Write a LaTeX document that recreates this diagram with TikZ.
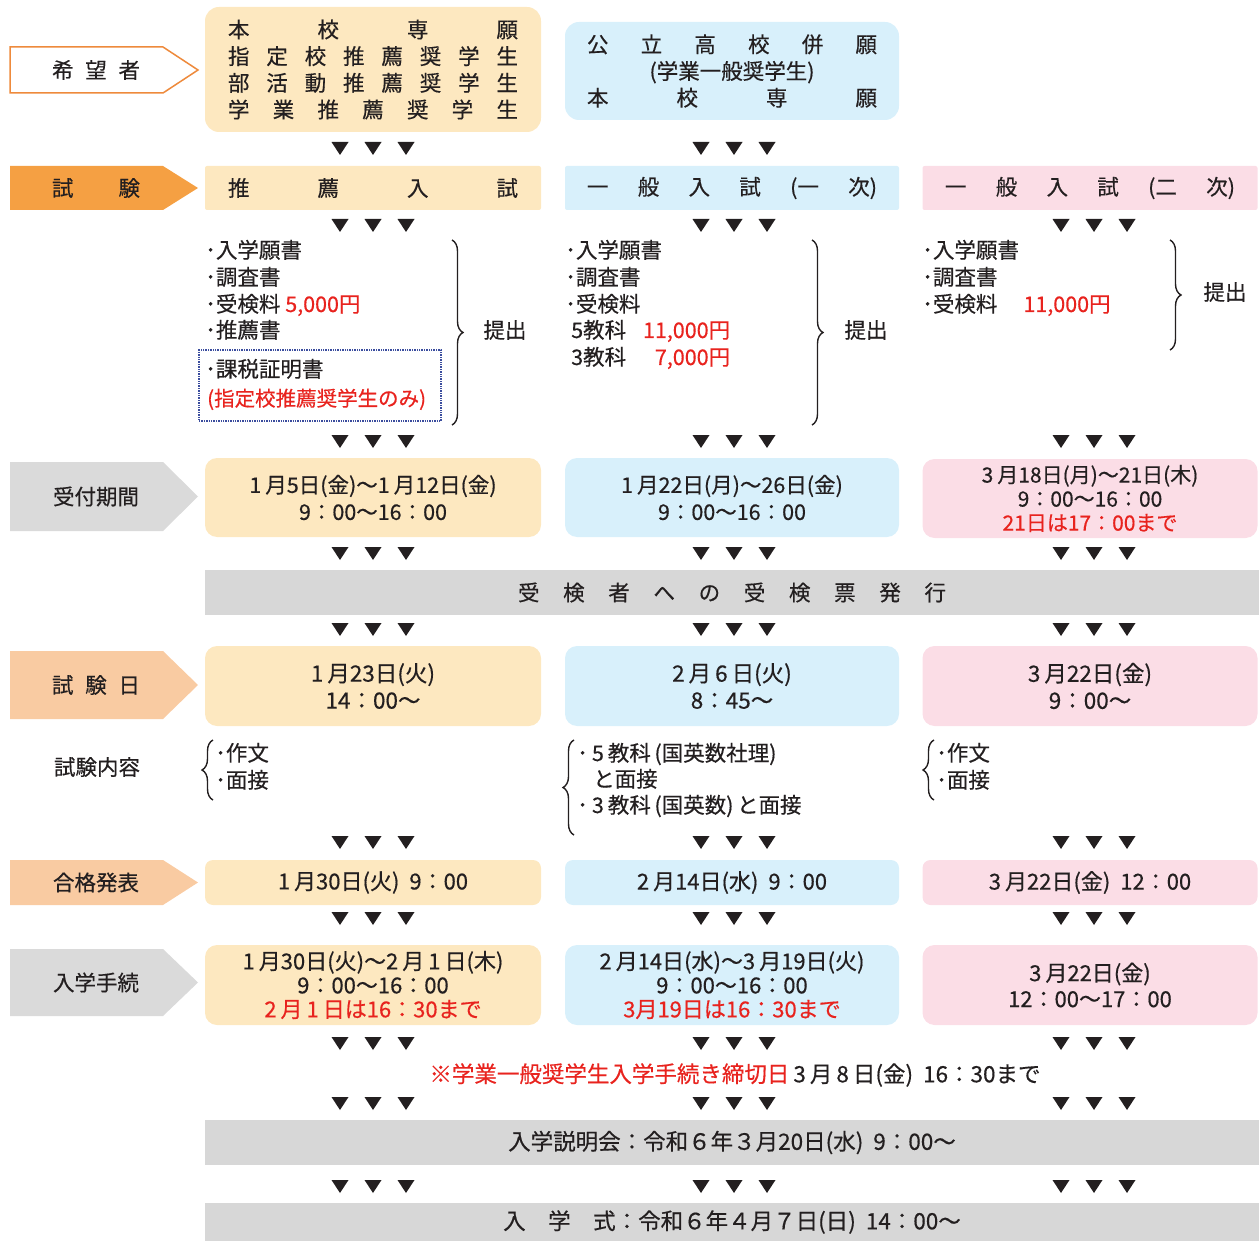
\documentclass[tikz,border=0pt]{standalone}
\usepackage{fontspec}
\setmainfont{Noto Sans CJK JP}[FakeBold=0.45]
\usetikzlibrary{decorations.pathreplacing}
\definecolor{cream}{HTML}{FDE8C0}
\definecolor{sky}{HTML}{D8F0FB}
\definecolor{rose}{HTML}{FBDDE6}
\definecolor{orgD}{HTML}{F5A043}
\definecolor{orgL}{HTML}{F9CBA2}
\definecolor{orgLine}{HTML}{EE8A3C}
\definecolor{lgray}{HTML}{DADADA}
\definecolor{bgray}{HTML}{D7D7D7}
\definecolor{redt}{HTML}{E8231E}
\definecolor{dotb}{HTML}{3B4D9E}
\definecolor{ink}{HTML}{231F20}
\newcommand\Dist[2]{\makebox[#1pt]{#2}}
\newcommand\R[1]{\textcolor{redt}{#1}}
\newcommand\sd{\hspace{4pt}}
\newcommand\Tris[2]{\foreach \dx in {-33,0,33}{\fill[ink] ({#1+\dx-8.5},{#2-6}) -- ({#1+\dx+8.5},{#2-6}) -- ({#1+\dx},{#2+7}) -- cycle;}}
\newcommand\LabArrow[5]{%
  \path[#4] (10,#2) -- (163,#2) -- (198,{(#2+#3)/2}) -- (163,#3) -- (10,#3) -- cycle;
  \node[font=\fontsize{21.5pt}{26pt}\selectfont] (#1) at (96,{(#2+#3)/2}) {#5};}
\begin{document}
\begin{tikzpicture}[x=1pt,y=-1pt,
  font=\fontsize{21.5pt}{26pt}\selectfont, text=ink,
  box/.style={rounded corners=12pt, inner sep=0pt, align=center},
  c1/.style={box, fill=cream, minimum width=336pt},
  c2/.style={box, fill=sky, minimum width=334pt},
  c3/.style={box, fill=rose, minimum width=335pt},
  banner/.style={fill=bgray, inner sep=0pt, minimum width=1054pt},
  ln/.style={anchor=west, inner sep=0pt, text height=16pt, text depth=4pt},
  brc/.style={decorate, decoration={brace, amplitude=11pt}, line width=1.4pt, draw=ink}]
\useasboundingbox (0,0) rectangle (1259,1241);

% ---- label arrows
\LabArrow{hope}{47}{93}{fill=white,draw=orgLine,line width=1.5pt}{\Dist{88}{希\hfill 望\hfill 者}}
\LabArrow{exam}{166}{210}{fill=orgD}{\Dist{88}{試\hfill 験}}
\LabArrow{recv}{462}{531}{fill=lgray}{受付期間}
\LabArrow{day}{651}{719}{fill=orgL}{\Dist{88}{試\hfill 験\hfill 日}}
\LabArrow{pass}{860}{905}{fill=orgL}{合格発表}
\LabArrow{proc}{949}{1016}{fill=lgray}{入学手続}

% ---- row 1
\node[c1, rounded corners=14pt, minimum height=125pt, font=\fontsize{21.5pt}{26.7pt}\selectfont] (h1) at (373,69.5) {%
\Dist{290}{本\hfill 校\hfill 専\hfill 願}\\
\Dist{290}{指\hfill 定\hfill 校\hfill 推\hfill 薦\hfill 奨\hfill 学\hfill 生}\\
\Dist{290}{部\hfill 活\hfill 動\hfill 推\hfill 薦\hfill 奨\hfill 学\hfill 生}\\
\Dist{290}{学\hfill 業\hfill 推\hfill 薦\hfill 奨\hfill 学\hfill 生}};
\node[c2, rounded corners=14pt, minimum height=98pt, font=\fontsize{21.5pt}{26.7pt}\selectfont] (h2) at (732,71) {%
\Dist{290}{公\hfill 立\hfill 高\hfill 校\hfill 併\hfill 願}\\
(学業一般奨学生)\\
\Dist{290}{本\hfill 校\hfill 専\hfill 願}};

% ---- row 2
\node[c1, rounded corners=2pt, minimum height=44pt] (e1) at (373,188) {\Dist{290}{推\hfill 薦\hfill 入\hfill 試}};
\node[c2, rounded corners=2pt, minimum height=44pt] (e2) at (732,188) {\Dist{290}{一\hfill 般\hfill 入\hfill 試\hfill (一\hfill 次)}};
\node[c3, rounded corners=2pt, minimum height=44pt] (e3) at (1090,188) {\Dist{290}{一\hfill 般\hfill 入\hfill 試\hfill (二\hfill 次)}};

% ---- documents
\node[ln] (a1) at (205,252) {･入学願書};
\node[ln] (a2) at (205,279) {･調査書};
\node[ln] (a3) at (205,306) {･受検料 \R{5,000円}};
\node[ln] (a4) at (205,332) {･推薦書};
\node[draw=dotb, densely dotted, line width=1.4pt, minimum width=242pt, minimum height=71pt, inner sep=0pt] (tax) at (320,385.5) {};
\node[ln] (a5) at (205,371) {･課税証明書};
\node[ln, font=\fontsize{20.5pt}{26pt}\selectfont] (a6) at (207,400) {\R{(指定校推薦奨学生のみ)}};
\coordinate (bt1) at (452,240); \coordinate (bb1) at (452,425);
\draw[brc] (bt1) -- (bb1);
\node (sub1) at (505,330) {提出};

\node[ln] (b1) at (565,252) {･入学願書};
\node[ln] (b2) at (565,279) {･調査書};
\node[ln] (b3) at (565,306) {･受検料};
\node[ln] (b4) at (571,332) {5教科\makebox[104pt][r]{\R{11,000円}}};
\node[ln] (b5) at (571,359) {3教科\makebox[104pt][r]{\R{7,000円}}};
\coordinate (bt2) at (812,240); \coordinate (bb2) at (812,425);
\draw[brc] (bt2) -- (bb2);
\node (sub2) at (866,330) {提出};

\node[ln] (g1) at (922,252) {･入学願書};
\node[ln] (g2) at (922,279) {･調査書};
\node[ln] (g3) at (922,306) {･受検料\hspace{26pt}\R{11,000円}};
\coordinate (bt3) at (1170,240); \coordinate (bb3) at (1170,350);
\draw[brc] (bt3) -- (bb3);
\node (sub3) at (1225,292) {提出};

% ---- reception period
\node[c1, minimum height=79pt, font=\fontsize{21.5pt}{27pt}\selectfont] (r1) at (373,497.5) {1\sd 月5日(金)～1\sd 月12日(金)\\9：00～16：00};
\node[c2, minimum height=79pt, font=\fontsize{21.5pt}{27pt}\selectfont] (r2) at (732,497.5) {1\sd 月22日(月)～26日(金)\\9：00～16：00};
\node[c3, minimum height=79pt, font=\fontsize{21pt}{24pt}\selectfont] (r3) at (1090,498.5) {3\sd 月18日(月)～21日(木)\\9：00～16：00\\\R{21日は17：00まで}};

% ---- ticket banner
\node[banner, minimum height=45pt] (ticket) at (732,592.5) {\Dist{428}{受\hfill 検\hfill 者\hfill へ\hfill の\hfill 受\hfill 検\hfill 票\hfill 発\hfill 行}};

% ---- exam day
\node[c1, minimum height=80pt, font=\fontsize{22.5pt}{27pt}\selectfont] (d1) at (373,686) {1\sd 月23日(火)\\14：00～};
\node[c2, minimum height=80pt, font=\fontsize{22.5pt}{27pt}\selectfont] (d2) at (732,686) {2\sd 月\sd 6\sd 日(火)\\8：45～};
\node[c3, minimum height=80pt, font=\fontsize{22.5pt}{27pt}\selectfont] (d3) at (1090,686) {3\sd 月22日(金)\\9：00～};

% ---- exam contents
\node (cont) at (97,767) {試験内容};
\coordinate (cb1) at (213,800); \coordinate (ct1) at (213,740);
\draw[brc] (cb1) -- (ct1);
\node[ln] (k1) at (215,755) {･作文};
\node[ln] (k2) at (215,782) {･面接};
\coordinate (cb2) at (574,835); \coordinate (ct2) at (574,740);
\draw[brc] (cb2) -- (ct2);
\node[ln] (k3) at (577,755) {･\sd 5\sd 教科\,(国英数社理)};
\node[ln] (k4) at (593,781) {と面接};
\node[ln] (k5) at (577,807) {･\sd 3\sd 教科\,(国英数)\,と面接};
\coordinate (cb3) at (934,800); \coordinate (ct3) at (934,740);
\draw[brc] (cb3) -- (ct3);
\node[ln] (k6) at (936,755) {･作文};
\node[ln] (k7) at (936,782) {･面接};

% ---- pass announcement
\node[c1, rounded corners=8pt, minimum height=45pt, font=\fontsize{22pt}{26pt}\selectfont] (p1) at (373,882.5) {1\sd 月30日(火)\hspace{10pt}9：00};
\node[c2, rounded corners=8pt, minimum height=45pt, font=\fontsize{22pt}{26pt}\selectfont] (p2) at (732,882.5) {2\sd 月14日(水)\hspace{10pt}9：00};
\node[c3, rounded corners=8pt, minimum height=45pt, font=\fontsize{22pt}{26pt}\selectfont] (p3) at (1090,882.5) {3\sd 月22日(金)\hspace{10pt}12：00};

% ---- procedure
\node[c1, minimum height=80pt, font=\fontsize{22pt}{24pt}\selectfont] (q1) at (373,985) {1\sd 月30日(火)～2\sd 月\sd 1\sd 日(木)\\9：00～16：00\\\R{2\sd 月\sd 1\sd 日は16：30まで}};
\node[c2, minimum height=80pt, font=\fontsize{22pt}{24pt}\selectfont] (q2) at (732,985) {2\sd 月14日(水)～3\sd 月19日(火)\\9：00～16：00\\\R{3月19日は16：30まで}};
\node[c3, minimum height=80pt, font=\fontsize{22pt}{26pt}\selectfont] (q3) at (1090,985) {3\sd 月22日(金)\\12：00～17：00};

% ---- note
\node[font=\fontsize{22.5pt}{26pt}\selectfont] (note) at (735,1075) {\R{※学業一般奨学生入学手続き締切日}\sd 3\sd 月\sd 8\sd 日(金)\hspace{10pt}16：30まで};

% ---- bottom banners
\node[banner, minimum height=45pt, font=\fontsize{22.5pt}{26pt}\selectfont] (info) at (732,1142.5) {入学説明会：令和６年３月20日(水)\hspace{10pt}9：00～};
\node[banner, minimum height=38pt, font=\fontsize{22.5pt}{26pt}\selectfont] (cere) at (732,1222) {入\quad 学\quad 式：令和６年４月７日(日)\hspace{10pt}14：00～};

% ---- triangles
\Tris{373}{148}\Tris{734}{148}
\foreach \yy in {225,441,553,629,842,918,1043,1103,1186}{\Tris{373}{\yy}\Tris{734}{\yy}\Tris{1094}{\yy}}
\end{tikzpicture}
\end{document}
